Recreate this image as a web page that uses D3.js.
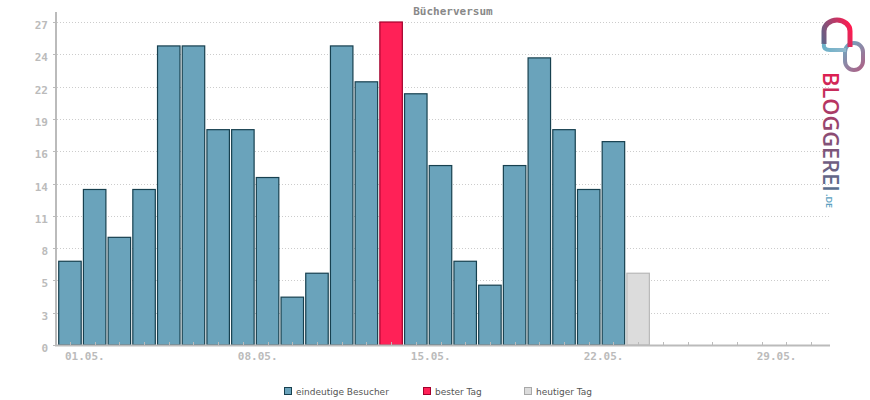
<!DOCTYPE html>
<html>
<head>
<meta charset="utf-8">
<script src="https://cdn.jsdelivr.net/npm/d3@7"></script>
<style>
  body { margin: 0; background: #fff; }
  .axis-text { font-family: "DejaVu Sans Mono", monospace; font-weight: bold; font-size: 11px; fill: #bbb; }
  .legend-text { font-family: "DejaVu Sans", sans-serif; font-size: 9px; fill: #555; }
</style>
</head>
<body>
<div id="chart"></div>
<script>
// daily unique visitors, May
const days = d3.range(1, 32);
const visitors = [7, 13, 9, 13, 25, 25, 18, 18, 14, 4, 6, 25, 22, 27, 21, 15, 7, 5, 15, 24, 18, 13, 17, 6];
const bestDay = 14;
const today = 24;
const xTickDays = [1, 8, 15, 22, 29];
const xTickLabels = ["01.05.", "08.05.", "15.05.", "22.05.", "29.05."];
const yTickValues = [0, 2.7, 5.4, 8.1, 10.8, 13.5, 16.2, 18.9, 21.6, 24.3, 27];
const yTickLabels = ["0", "3", "5", "8", "11", "14", "16", "19", "22", "24", "27"];
const legendLabels = ["eindeutige Besucher", "bester Tag", "heutiger Tag"];

const width = 870, height = 400;
const margin = {top: 22, bottom: 55, left: 57, right: 40};

const svg = d3.select("#chart").append("svg").attr("width", width).attr("height", height);

const xScale = d3.scaleBand()
  .domain(days)
  .range([57.6, 823.4])
  .paddingInner(0.09)
  .paddingOuter(0.045);

const yScale = d3.scaleLinear()
  .domain([0, 27])
  .range([height - margin.bottom, margin.top]);

const y0 = yScale(0);

// gridlines
svg.append("g")
  .selectAll("line")
  .data(yTickValues.slice(1))
  .enter()
  .append("line")
  .attr("x1", 57).attr("x2", 830)
  .attr("y1", d => Math.round(yScale(d)) + 0.5)
  .attr("y2", d => Math.round(yScale(d)) + 0.5)
  .attr("stroke", "#cccccc")
  .attr("stroke-dasharray", "1,2");

// title
svg.append("text")
  .attr("x", 453).attr("y", 15)
  .attr("text-anchor", "middle")
  .style("font-family", "DejaVu Sans Mono, monospace")
  .style("font-weight", "bold")
  .style("font-size", "11px")
  .style("fill", "#888")
  .text("Bücherversum");

// bars
const fillFor = (d, i) => i + 1 === bestDay ? "#ff2157" : (i + 1 === today ? "#dcdcdc" : "#6aa3bb");
const strokeFor = (d, i) => i + 1 === bestDay ? "#a3002c" : (i + 1 === today ? "#b8b8b8" : "#17404f");

svg.selectAll("rect.bar")
  .data(visitors)
  .enter()
  .append("rect")
  .attr("class", "bar")
  .attr("x", (d, i) => xScale(days[i]))
  .attr("width", xScale.bandwidth())
  .attr("y", d => yScale(d))
  .attr("height", d => y0 - yScale(d))
  .attr("fill", fillFor)
  .attr("stroke", strokeFor)
  .attr("stroke-width", 1.2);

// y axis
svg.append("line")
  .attr("x1", 56).attr("x2", 56)
  .attr("y1", 12).attr("y2", y0 + 1)
  .attr("stroke", "#bbb").attr("stroke-width", 2);

svg.append("g")
  .selectAll("line")
  .data(yTickValues)
  .enter()
  .append("line")
  .attr("x1", 53).attr("x2", 57)
  .attr("y1", d => Math.round(yScale(d)) + 0.5)
  .attr("y2", d => Math.round(yScale(d)) + 0.5)
  .attr("stroke", "#bbb");

svg.append("g")
  .selectAll("text")
  .data(yTickValues)
  .enter()
  .append("text")
  .attr("class", "axis-text")
  .attr("x", 48)
  .attr("y", d => yScale(d) + 7)
  .attr("text-anchor", "end")
  .text((d, i) => yTickLabels[i]);

// x axis
svg.append("line")
  .attr("x1", 55).attr("x2", 830)
  .attr("y1", y0 + 0.5).attr("y2", y0 + 0.5)
  .attr("stroke", "#bbb").attr("stroke-width", 2);

svg.append("g")
  .selectAll("line")
  .data(days)
  .enter()
  .append("line")
  .attr("x1", d => Math.round(xScale(d) + xScale.bandwidth() / 2) + 0.5)
  .attr("x2", d => Math.round(xScale(d) + xScale.bandwidth() / 2) + 0.5)
  .attr("y1", y0 - 3).attr("y2", y0)
  .attr("stroke", "#bbb");

svg.append("g")
  .selectAll("text")
  .data(xTickDays)
  .enter()
  .append("text")
  .attr("class", "axis-text")
  .attr("x", d => xScale(d) + xScale.bandwidth() / 2 - 5)
  .attr("y", 360)
  .text((d, i) => xTickLabels[i]);

// legend
const legendX = [284, 423, 524];
const legendFill = ["#6aa3bb", "#ff2157", "#dcdcdc"];
const legendStroke = ["#17404f", "#a3002c", "#a8a8a8"];
const legend = svg.append("g").selectAll("g")
  .data(legendLabels)
  .enter()
  .append("g")
  .attr("transform", (d, i) => "translate(" + legendX[i] + ",387)");
legend.append("rect")
  .attr("x", 0.5).attr("y", 0.5)
  .attr("width", 7).attr("height", 7)
  .attr("fill", (d, i) => legendFill[i])
  .attr("stroke", (d, i) => legendStroke[i]);
legend.append("text")
  .attr("class", "legend-text")
  .attr("x", 12).attr("y", 8)
  .text(d => d);

// logo
const defs = svg.append("defs");
// text gradient runs along the rotated text, so its own x axis
const gText = defs.append("linearGradient")
  .attr("id", "gText").attr("gradientUnits", "userSpaceOnUse")
  .attr("x1", 0).attr("y1", 0).attr("x2", 120).attr("y2", 0);
gText.append("stop").attr("offset", "0%").attr("stop-color", "#e01e50");
gText.append("stop").attr("offset", "50%").attr("stop-color", "#8e4a72");
gText.append("stop").attr("offset", "100%").attr("stop-color", "#56708e");

const gArch = defs.append("linearGradient")
  .attr("id", "gArch").attr("gradientUnits", "userSpaceOnUse")
  .attr("x1", 822).attr("y1", 40).attr("x2", 852).attr("y2", 30);
gArch.append("stop").attr("offset", "0%").attr("stop-color", "#5d6488");
gArch.append("stop").attr("offset", "100%").attr("stop-color", "#ff1a4f");

const gRing = defs.append("linearGradient")
  .attr("id", "gRing").attr("gradientUnits", "userSpaceOnUse")
  .attr("x1", 840).attr("y1", 45).attr("x2", 866).attr("y2", 70);
gRing.append("stop").attr("offset", "0%").attr("stop-color", "#6ab0c8");
gRing.append("stop").attr("offset", "100%").attr("stop-color", "#b25a80");

const gTail = defs.append("linearGradient")
  .attr("id", "gTail").attr("gradientUnits", "userSpaceOnUse")
  .attr("x1", 822).attr("y1", 0).attr("x2", 845).attr("y2", 0);
gTail.append("stop").attr("offset", "0%").attr("stop-color", "#6ab0c8");
gTail.append("stop").attr("offset", "100%").attr("stop-color", "#8fb8cc");

svg.append("rect")
  .attr("x", 845).attr("y", 43).attr("width", 18).attr("height", 27).attr("rx", 9)
  .attr("fill", "none").attr("stroke", "url(#gRing)").attr("stroke-width", 4);
svg.append("path")
  .attr("d", "M 850 47 L 850 31 A 13 11 0 0 0 824 31 L 824 44")
  .attr("fill", "none").attr("stroke", "url(#gArch)").attr("stroke-width", 5);
svg.append("path")
  .attr("d", "M 824 44 Q 823 50 830 50 L 846 50")
  .attr("fill", "none").attr("stroke", "url(#gTail)").attr("stroke-width", 4);

svg.append("text")
  .attr("transform", "translate(823,72) rotate(90)")
  .attr("textLength", 120).attr("lengthAdjust", "spacingAndGlyphs")
  .style("font-family", "Open Sans, sans-serif")
  .style("font-weight", "600")
  .style("font-size", "21px")
  .style("fill", "url(#gText)")
  .text("BLOGGEREI");
svg.append("text")
  .attr("transform", "translate(826,194) rotate(90)")
  .style("font-family", "Open Sans, sans-serif")
  .style("font-weight", "600")
  .style("font-size", "9px")
  .style("fill", "#5aa0c0")
  .text(".DE");
</script>
</body>
</html>
